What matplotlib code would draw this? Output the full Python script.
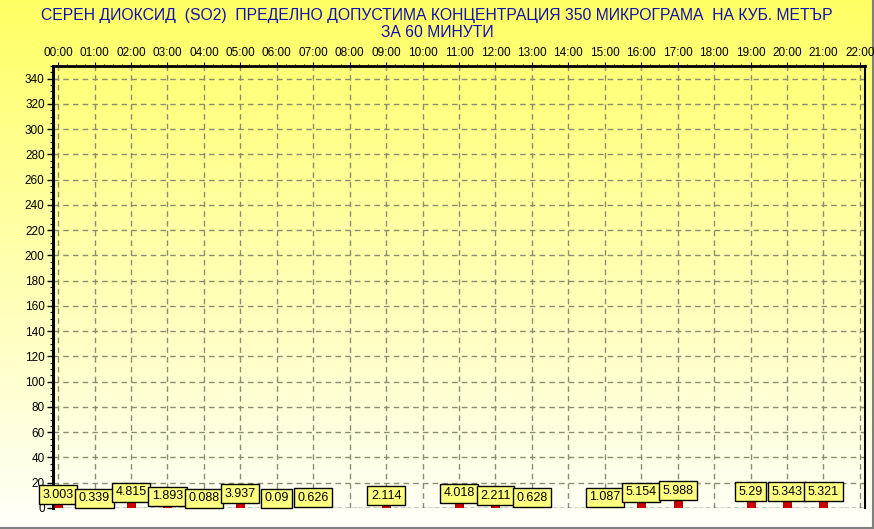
"""
SO2 concentration chart, 60-minute averages
"""

import numpy as np
import matplotlib

matplotlib.use("Agg")
import matplotlib.pyplot as plt
from matplotlib.ticker import MultipleLocator, FixedLocator

# данные
hours = list(range(22))
values = [
    3.003, 0.339, 4.815, 1.893, 0.088, 3.937, 0.09, 0.626, np.nan, 2.114, np.nan,
    4.018, 2.211, 0.628, np.nan, 1.087, 5.154, 5.988, np.nan, 5.29, 5.343, 5.321,
]
value_labels = [
    "3.003", "0.339", "4.815", "1.893", "0.088", "3.937", "0.09", "0.626", "", "2.114", "",
    "4.018", "2.211", "0.628", "", "1.087", "5.154", "5.988", "", "5.29", "5.343", "5.321",
]
tick_hours = list(range(23))
tick_labels = [f"{h:02d}:00" for h in tick_hours]
y_ticks = list(range(0, 341, 20))

title_1 = "СЕРЕН ДИОКСИД  (SO2)  ПРЕДЕЛНО ДОПУСТИМА КОНЦЕНТРАЦИЯ 350 МИКРОГРАМА  НА КУБ. МЕТЪР"
title_2 = "ЗА 60 МИНУТИ"

plt.rcParams["font.family"] = ["Liberation Sans", "DejaVu Sans"]

fig = plt.figure(figsize=(8.74, 5.29), dpi=100)

# градиентный фон
bg = fig.add_axes([0, 0, 1, 1], zorder=-1)
t = np.linspace(0, 1, 256).reshape(-1, 1)
top_col = np.array([255, 255, 100]) / 255
bot_col = np.array([255, 255, 250]) / 255
grad = top_col[None, None, :] * (1 - t[:, :, None]) + bot_col[None, None, :] * t[:, :, None]
bg.imshow(grad, aspect="auto", extent=[0, 1, 0, 1], origin="upper")
bg.plot([0, 1], [0.002, 0.002], color="#808080", lw=1.5)
bg.plot([0.999, 0.999], [0, 1], color="#808080", lw=1.5)
bg.set_xlim(0, 1)
bg.set_ylim(0, 1)
bg.axis("off")

ax = fig.add_axes([53 / 874, 1 - 508 / 529, (865 - 53) / 874, (508 - 66) / 529])
ax.patch.set_alpha(0)

vals = np.array(values, dtype=float)
mask = ~np.isnan(vals)
ax.bar(np.array(hours)[mask], vals[mask], width=0.22, color="#D00000",
       edgecolor="#800000", linewidth=0.6, zorder=3)

for h, v, lab in zip(hours, values, value_labels):
    if np.isnan(v):
        continue
    ax.annotate(lab, xy=(h, v), xytext=(0, 2.5), textcoords="offset points",
                ha="center", va="bottom", fontsize=9, color="black", zorder=5,
                bbox=dict(boxstyle="square,pad=0.28", fc="#FFFF80", ec="black", lw=1))

ax.set_xlim(-0.14, 22.14)
ax.set_ylim(0, 350)

ax.xaxis.tick_top()
ax.xaxis.set_major_locator(FixedLocator(tick_hours))
ax.set_xticklabels(tick_labels)
ax.xaxis.set_minor_locator(MultipleLocator(0.25))
ax.set_yticks(y_ticks)
ax.yaxis.set_minor_locator(MultipleLocator(5))

ax.tick_params(axis="x", which="major", top=True, bottom=False, length=3, width=0.8,
               labelsize=8.5, pad=2)
ax.tick_params(axis="x", which="minor", top=True, bottom=False, length=1.5, width=0.8)
ax.tick_params(axis="y", which="major", length=4, width=1, labelsize=8.5, pad=2)
ax.tick_params(axis="y", which="minor", length=2, width=0.8)

ax.grid(True, which="major", color="#8C8C70", linestyle=(0, (4, 3)), linewidth=1)
ax.set_axisbelow(True)

ax.spines["left"].set_linewidth(2.2)
ax.spines["top"].set_linewidth(2)
ax.spines["right"].set_linewidth(1.5)
ax.spines["bottom"].set_visible(False)
ax.axhline(0, color="#303030", linestyle=(0, (3, 2)), linewidth=1, zorder=2)

fig.text(0.5, 1 - 20 / 529, title_1, ha="center", va="baseline", fontsize=11.3, color="#1010B0")
fig.text(0.5, 1 - 37 / 529, title_2, ha="center", va="baseline", fontsize=11.3, color="#1010B0")

fig.savefig("out.png", dpi=100)
